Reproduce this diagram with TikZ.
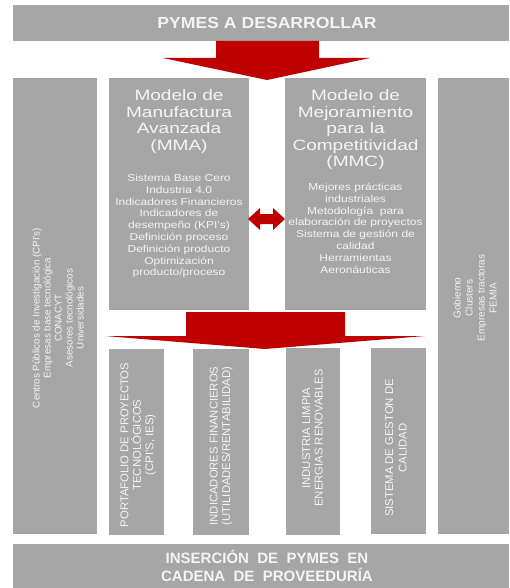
\documentclass[tikz,border=0pt]{standalone}
\usepackage{fontspec}
\setmainfont{Liberation Sans}
\newfontfamily\titlefont{Liberation Sans}[FakeStretch=1.27]
\newfontfamily\bodyfont{Liberation Sans}[FakeStretch=1.2]
\newfontfamily\barfont{Liberation Sans}[FakeStretch=1.1]
\definecolor{boxgray}{HTML}{A6A6A6}
\definecolor{arrowred}{HTML}{C00000}
\definecolor{boxtext}{HTML}{F4F4F4}
\begin{document}
\begin{tikzpicture}[x=1pt,y=-1pt,
  gbox/.style={fill=boxgray,draw=none,inner sep=0pt,outer sep=0pt,anchor=north west},
  txt/.style={text=boxtext,inner sep=0pt,align=center},
  redarrow/.style={fill=arrowred,draw=none}]
\useasboundingbox (0,0) rectangle (509,588);
% boxes
\node[gbox,minimum width=496pt,minimum height=36pt] (top) at (13,5) {};
\node[gbox,minimum width=84pt,minimum height=456pt] (left) at (13,78) {};
\node[gbox,minimum width=140pt,minimum height=232pt] (mma) at (109,78) {};
\node[gbox,minimum width=141pt,minimum height=232pt] (mmc) at (285,78) {};
\node[gbox,minimum width=71pt,minimum height=456pt] (right) at (438,78) {};
\node[gbox,minimum width=55pt,minimum height=186pt] (b1) at (109,349) {};
\node[gbox,minimum width=56pt,minimum height=186pt] (b2) at (193,349) {};
\node[gbox,minimum width=54pt,minimum height=187pt] (b3) at (286,348) {};
\node[gbox,minimum width=55pt,minimum height=186pt] (b4) at (371,348) {};
\node[gbox,minimum width=496pt,minimum height=44pt] (bottom) at (13,544) {};
% arrows
\fill[redarrow] (216,41) -- (319,41) -- (319,58) -- (370,58) -- (267,80) -- (163,58) -- (216,58) -- cycle;
\fill[redarrow] (186,312) -- (345,312) -- (345,336) -- (425,336) -- (265,349) -- (105,336) -- (186,336) -- cycle;
\fill[redarrow] (248,219) -- (260,208) -- (260,214) -- (273,214) -- (273,208) -- (285,219) -- (273,230) -- (273,224) -- (260,224) -- (260,230) -- cycle;
% texts
\node[txt,font=\barfont\bfseries\fontsize{16}{18}\selectfont] (toptxt) at (267,23) {PYMES A DESARROLLAR};
\node[txt,font=\bfseries\fontsize{15}{18}\selectfont] (bottxt) at (267,566) {INSERCIÓN\ \ DE\ \ PYMES\ \ EN\\CADENA\ \ DE\ \ PROVEEDURÍA};
\node[txt,anchor=north,font=\titlefont\fontsize{15}{16.5}\selectfont] (mmatitle) at (179,89.5) {Modelo de\\Manufactura\\Avanzada\\(MMA)};
\node[txt,anchor=north,font=\bodyfont\fontsize{10}{11.8}\selectfont] (mmabody) at (179,174) {Sistema Base Cero\\Industria 4.0\\Indicadores Financieros\\Indicadores de\\desempeño (KPI's)\\Definición proceso\\Definición producto\\Optimización\\producto/proceso};
\node[txt,anchor=north,font=\titlefont\fontsize{15}{16.5}\selectfont] (mmctitle) at (355.5,89.5) {Modelo de\\Mejoramiento\\para la\\Competitividad\\(MMC)};
\node[txt,anchor=north,font=\bodyfont\fontsize{10}{11.8}\selectfont] (mmcbody) at (355.5,183) {Mejores prácticas\\industriales\\Metodología\ \ para\\elaboración de proyectos\\Sistema de gestión de\\calidad\\Herramientas\\Aeronáuticas};
\node[txt,rotate=90,font=\fontsize{9.8}{11}\selectfont] (lefttxt) at (58,318) {Centros Públicos de Investigación (CPI's)\\Empresas base tecnológica\\CONACYT\\Asesores tecnológicos\\Universidades};
\node[txt,rotate=90,font=\fontsize{10}{12}\selectfont] (righttxt) at (475,298) {Gobierno\\Clusters\\Empresas tractoras\\FEMIA};
\node[txt,rotate=90,font=\fontsize{11.3}{12.5}\selectfont] (t1) at (138,445) {PORTAFOLIO DE PROYECTOS\\TECNOLÓGICOS\\(CPI'S, IES)};
\node[txt,rotate=90,font=\fontsize{11.3}{12.5}\selectfont] (t2) at (221,446) {INDICADORES FINANCIEROS\\(UTILIDADES/RENTABILIDAD)};
\node[txt,rotate=90,font=\fontsize{11.3}{12.5}\selectfont] (t3) at (312.5,438) {INDUSTRIA LIMPIA\\ENERGIAS RENOVABLES};
\node[txt,rotate=90,font=\fontsize{11.3}{13.5}\selectfont] (t4) at (396,448) {SISTEMA DE GESTON DE\\CALIDAD};
\end{tikzpicture}
\end{document}
